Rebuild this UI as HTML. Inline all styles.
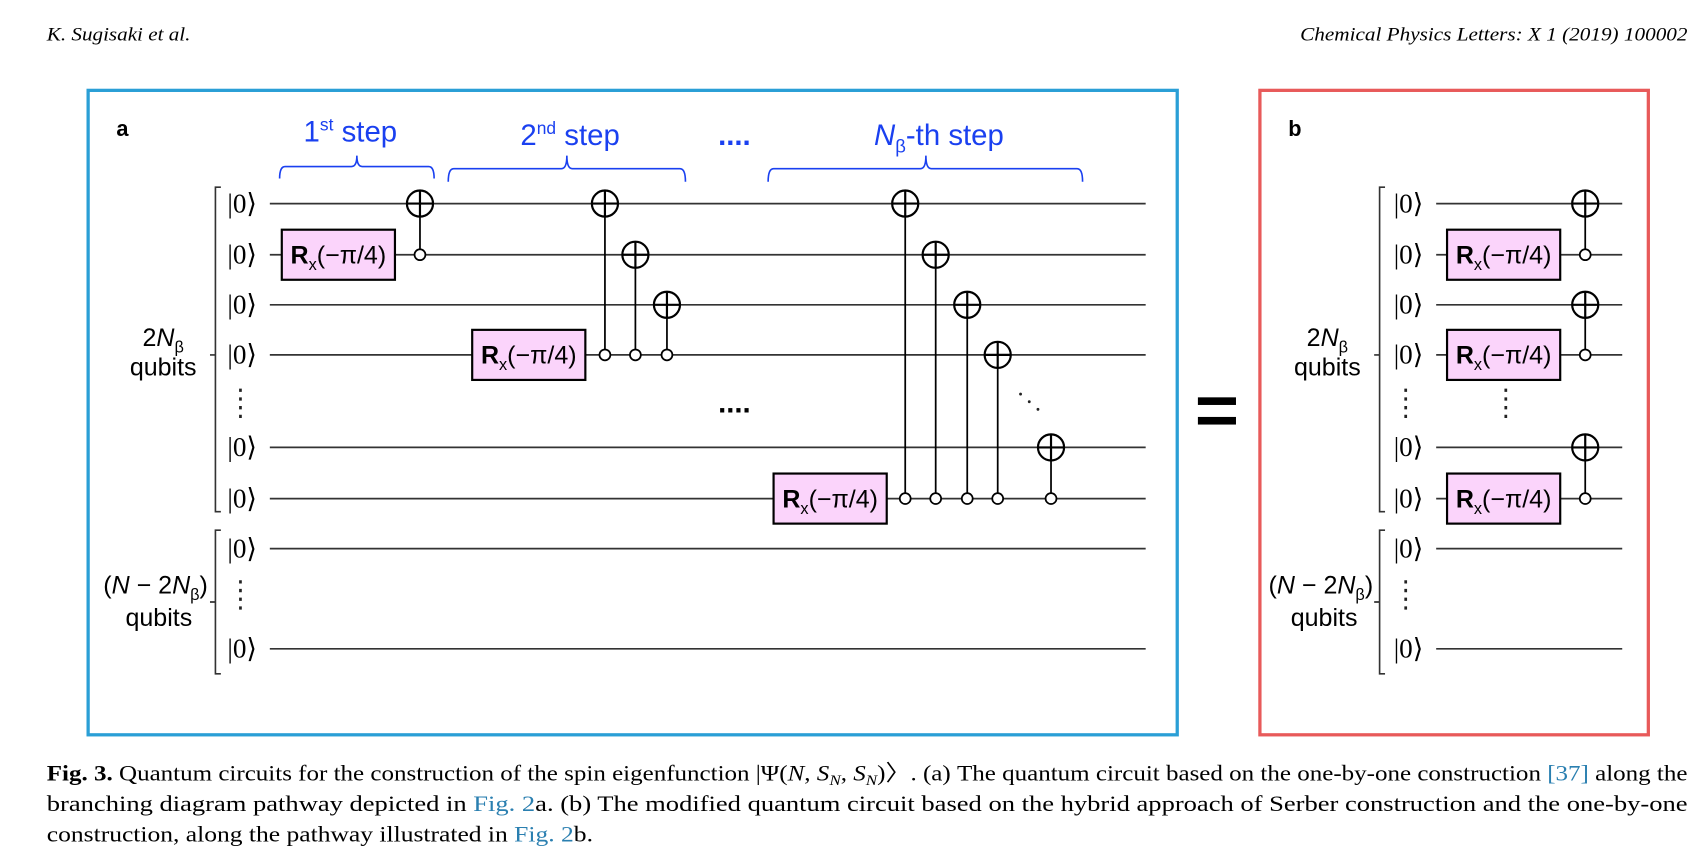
<!DOCTYPE html>
<html><head><meta charset="utf-8"><style>
html,body{margin:0;padding:0;background:#fff;width:1706px;height:860px;overflow:hidden}
svg{display:block}
.s{font-family:"Liberation Sans",sans-serif}
.r{font-family:"Liberation Serif",serif}
</style></head><body>
<svg width="1706" height="860" viewBox="0 0 1568 790" preserveAspectRatio="none" xmlns="http://www.w3.org/2000/svg">
<defs>
<g id="tgt"><circle r="12" fill="#fff" stroke="#000" stroke-width="2"/><line x1="-12" y1="0" x2="12" y2="0" stroke="#000" stroke-width="2"/><line x1="0" y1="-12" x2="0" y2="12" stroke="#000" stroke-width="2"/></g>
<g id="ctl"><circle r="5" fill="#fff" stroke="#000" stroke-width="1.6"/></g>
<g id="rx"><rect x="0" y="0" width="104" height="46" fill="#fbd4fb" stroke="#000" stroke-width="2"/><text x="52" y="31" text-anchor="middle" class="s" font-size="23"><tspan font-weight="bold">R</tspan><tspan font-size="15" dy="6">x</tspan><tspan dy="-6">(−π/4)</tspan></text></g>
<g id="ket"><text class="r" font-size="25" x="0" y="8">|0⟩</text></g>
</defs>
<text x="43" y="37" class="r" font-style="italic" font-size="17.5" textLength="132" lengthAdjust="spacingAndGlyphs">K. Sugisaki et al.</text>
<text x="1195" y="37" class="r" font-style="italic" font-size="17.5" textLength="356" lengthAdjust="spacingAndGlyphs">Chemical Physics Letters: X 1 (2019) 100002</text>

<rect x="81" y="83" width="1001" height="592" fill="none" stroke="#2a9fd6" stroke-width="3"/>
<rect x="1158" y="83" width="357" height="592" fill="none" stroke="#e85a5a" stroke-width="3"/>

<text x="107" y="125" class="s" font-weight="bold" font-size="20">a</text>
<text x="1184" y="125" class="s" font-weight="bold" font-size="20">b</text>

<g stroke="#333" stroke-width="1.6">
<line x1="248" y1="187" x2="1053" y2="187"/><line x1="248" y1="234" x2="1053" y2="234"/>
<line x1="248" y1="280" x2="1053" y2="280"/><line x1="248" y1="326" x2="1053" y2="326"/>
<line x1="248" y1="411" x2="1053" y2="411"/><line x1="248" y1="458" x2="1053" y2="458"/>
<line x1="248" y1="504" x2="1053" y2="504"/><line x1="248" y1="596" x2="1053" y2="596"/>
<line x1="1320" y1="187" x2="1491" y2="187"/><line x1="1320" y1="234" x2="1491" y2="234"/>
<line x1="1320" y1="280" x2="1491" y2="280"/><line x1="1320" y1="326" x2="1491" y2="326"/>
<line x1="1320" y1="411" x2="1491" y2="411"/><line x1="1320" y1="458" x2="1491" y2="458"/>
<line x1="1320" y1="504" x2="1491" y2="504"/><line x1="1320" y1="596" x2="1491" y2="596"/>
</g>
<g>
<use href="#ket" x="209" y="187"/><use href="#ket" x="209" y="234"/><use href="#ket" x="209" y="280"/><use href="#ket" x="209" y="326"/>
<use href="#ket" x="209" y="411"/><use href="#ket" x="209" y="458"/><use href="#ket" x="209" y="504"/><use href="#ket" x="209" y="596"/>
<use href="#ket" x="1281" y="187"/><use href="#ket" x="1281" y="234"/><use href="#ket" x="1281" y="280"/><use href="#ket" x="1281" y="326"/>
<use href="#ket" x="1281" y="411"/><use href="#ket" x="1281" y="458"/><use href="#ket" x="1281" y="504"/><use href="#ket" x="1281" y="596"/>
</g>
<g fill="none" stroke="#333" stroke-width="1.5">
<path d="M203 172 H198 V470 H203 M198 326 H193"/><path d="M203 487 H198 V619 H203 M198 553 H193"/>
<path d="M1273 172 H1268 V470 H1273 M1268 326 H1263"/><path d="M1273 487 H1268 V619 H1273 M1268 553 H1263"/>
</g>
<g stroke="#222" stroke-width="2.5" stroke-dasharray="3 5">
<line x1="221" y1="357" x2="221" y2="386"/><line x1="221" y1="533" x2="221" y2="562"/>
<line x1="1292" y1="357" x2="1292" y2="386"/><line x1="1292" y1="533" x2="1292" y2="562"/>
<line x1="1384" y1="357" x2="1384" y2="386"/>
</g>
<text x="150" y="318" class="s" font-size="23" text-anchor="middle">2<tspan font-style="italic">N</tspan><tspan font-size="15" dy="6">β</tspan></text>
<text x="150" y="345" class="s" font-size="23" text-anchor="middle">qubits</text>
<text x="143" y="545" class="s" font-size="23" text-anchor="middle">(<tspan font-style="italic">N</tspan> − 2<tspan font-style="italic">N</tspan><tspan font-size="15" dy="6">β</tspan><tspan dy="-6">)</tspan></text>
<text x="146" y="575" class="s" font-size="23" text-anchor="middle">qubits</text>
<text x="1220" y="318" class="s" font-size="23" text-anchor="middle">2<tspan font-style="italic">N</tspan><tspan font-size="15" dy="6">β</tspan></text>
<text x="1220" y="345" class="s" font-size="23" text-anchor="middle">qubits</text>
<text x="1214" y="545" class="s" font-size="23" text-anchor="middle">(<tspan font-style="italic">N</tspan> − 2<tspan font-style="italic">N</tspan><tspan font-size="15" dy="6">β</tspan><tspan dy="-6">)</tspan></text>
<text x="1217" y="575" class="s" font-size="23" text-anchor="middle">qubits</text>

<g fill="#1a40f0" class="s" font-size="27">
<text x="322" y="130" text-anchor="middle">1<tspan font-size="16" dy="-10">st</tspan><tspan dy="10"> step</tspan></text>
<text x="524" y="133" text-anchor="middle">2<tspan font-size="16" dy="-10">nd</tspan><tspan dy="10"> step</tspan></text>
<text x="863" y="133" text-anchor="middle"><tspan font-style="italic">N</tspan><tspan font-size="17" dy="7">β</tspan><tspan dy="-7">-th step</tspan></text>
<text x="675" y="133" text-anchor="middle" font-weight="bold">....</text>
</g>
<g fill="none" stroke="#1a40f0" stroke-width="1.5">
<path d="M257 164 Q257 153 262 153 H323 Q328 153 328 143 Q328 153 333 153 H394 Q399 153 399 164"/>
<path d="M412 167 Q412 155 417 155 H516 Q521 155 521 143 Q521 155 526 155 H625 Q630 155 630 167"/>
<path d="M706 167 Q706 155 711 155 H846 Q851 155 851 143 Q851 155 856 155 H990 Q995 155 995 167"/>
</g>
<text x="675" y="379" class="s" font-size="27" font-weight="bold" text-anchor="middle">....</text>
<g fill="#222"><circle cx="938" cy="362" r="1.3"/><circle cx="946" cy="369" r="1.3"/><circle cx="954" cy="376" r="1.3"/></g>

<g stroke="#000" stroke-width="1.6">
<line x1="386" y1="187" x2="386" y2="234"/>
<line x1="556" y1="187" x2="556" y2="326"/><line x1="584" y1="234" x2="584" y2="326"/><line x1="613" y1="280" x2="613" y2="326"/>
<line x1="832" y1="187" x2="832" y2="458"/><line x1="860" y1="234" x2="860" y2="458"/><line x1="889" y1="280" x2="889" y2="458"/><line x1="917" y1="326" x2="917" y2="458"/><line x1="966" y1="411" x2="966" y2="458"/>
<line x1="1457" y1="187" x2="1457" y2="234"/><line x1="1457" y1="280" x2="1457" y2="326"/><line x1="1457" y1="411" x2="1457" y2="458"/>
</g>
<use href="#rx" x="259" y="211"/><use href="#rx" x="434" y="303"/><use href="#rx" x="711" y="435"/>
<use href="#rx" x="1330" y="211"/><use href="#rx" x="1330" y="303"/><use href="#rx" x="1330" y="435"/>
<use href="#tgt" x="386" y="187"/><use href="#ctl" x="386" y="234"/>
<use href="#tgt" x="556" y="187"/><use href="#tgt" x="584" y="234"/><use href="#tgt" x="613" y="280"/>
<use href="#ctl" x="556" y="326"/><use href="#ctl" x="584" y="326"/><use href="#ctl" x="613" y="326"/>
<use href="#tgt" x="832" y="187"/><use href="#tgt" x="860" y="234"/><use href="#tgt" x="889" y="280"/><use href="#tgt" x="917" y="326"/><use href="#tgt" x="966" y="411"/>
<use href="#ctl" x="832" y="458"/><use href="#ctl" x="860" y="458"/><use href="#ctl" x="889" y="458"/><use href="#ctl" x="917" y="458"/><use href="#ctl" x="966" y="458"/>
<use href="#tgt" x="1457" y="187"/><use href="#ctl" x="1457" y="234"/>
<use href="#tgt" x="1457" y="280"/><use href="#ctl" x="1457" y="326"/>
<use href="#tgt" x="1457" y="411"/><use href="#ctl" x="1457" y="458"/>

<rect x="1101" y="365" width="35" height="7" fill="#000"/><rect x="1101" y="383" width="35" height="7" fill="#000"/>

<g class="r" font-size="20.5" fill="#000">
<text x="43" y="717" textLength="1508" lengthAdjust="spacingAndGlyphs"><tspan font-weight="bold">Fig. 3.</tspan> Quantum circuits for the construction of the spin eigenfunction |Ψ(<tspan font-style="italic">N</tspan>, <tspan font-style="italic">S<tspan font-size="14" dy="4">N</tspan></tspan><tspan dy="-4">, </tspan><tspan font-style="italic">S<tspan font-size="14" dy="4">N</tspan></tspan><tspan dy="-4">)〉. (a) The quantum circuit based on the one-by-one construction </tspan><tspan fill="#2a7fb0">[37]</tspan> along the</text>
<text x="43" y="745" textLength="1508" lengthAdjust="spacingAndGlyphs">branching diagram pathway depicted in <tspan fill="#2a7fb0">Fig. 2</tspan>a. (b) The modified quantum circuit based on the hybrid approach of Serber construction and the one-by-one</text>
<text x="43" y="773" textLength="502" lengthAdjust="spacingAndGlyphs">construction, along the pathway illustrated in <tspan fill="#2a7fb0">Fig. 2</tspan>b.</text>
</g>
</svg>
</body></html>
